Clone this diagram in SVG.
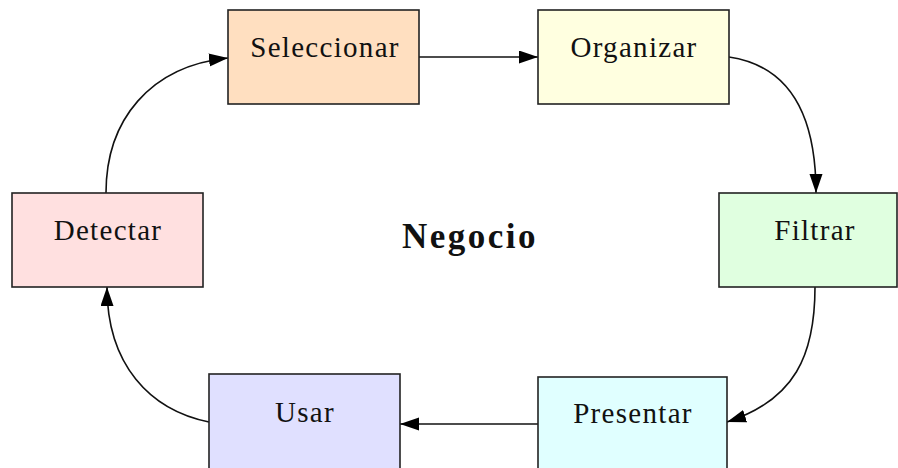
<svg xmlns="http://www.w3.org/2000/svg" width="898" height="468" viewBox="0 0 898 468">
<style>
.box{stroke:#222;stroke-width:1.6}
.lbl{font-family:"Liberation Serif","Times New Roman",serif;font-size:29px;letter-spacing:1.3px;fill:#111;text-anchor:middle}
.title{font-family:"Liberation Serif","Times New Roman",serif;font-size:35px;font-weight:bold;letter-spacing:2.5px;fill:#111;text-anchor:middle}
.edge{fill:none;stroke:#111;stroke-width:1.6}
</style>
<defs>
<marker id="ah" markerUnits="userSpaceOnUse" markerWidth="20" markerHeight="14" refX="19" refY="6.5" orient="auto">
<path d="M0,0 L19,6.5 L0,13 z" fill="#000"/>
</marker>
</defs>
<rect width="898" height="468" fill="#fff"/>
<g id="connectors">
<path class="edge" d="M419,57 L538,57" marker-end="url(#ah)"/>
<path class="edge" d="M729,57 C790,66 816,115 816,193" marker-end="url(#ah)"/>
<path class="edge" d="M815,287 C815,355 795,400 727,422" marker-end="url(#ah)"/>
<path class="edge" d="M538,424 L400,424" marker-end="url(#ah)"/>
<path class="edge" d="M209,422 C150,410 107,365 107,287" marker-end="url(#ah)"/>
<path class="edge" d="M106,193 C106,120 150,66 228,58" marker-end="url(#ah)"/>
</g>
<g id="seleccionar">
<rect class="box" x="228" y="10" width="191" height="94" fill="#ffdfc0"/>
<text class="lbl" x="325" y="57">Seleccionar</text>
</g>
<g id="organizar">
<rect class="box" x="538" y="10" width="191" height="94" fill="#ffffe0"/>
<text class="lbl" x="634" y="57">Organizar</text>
</g>
<g id="filtrar">
<rect class="box" x="719" y="193" width="178" height="94" fill="#e0ffe0"/>
<text class="lbl" x="815" y="240">Filtrar</text>
</g>
<g id="presentar">
<rect class="box" x="538" y="377" width="189" height="100" fill="#e0ffff"/>
<text class="lbl" x="633" y="423">Presentar</text>
</g>
<g id="usar">
<rect class="box" x="209" y="374" width="191" height="100" fill="#e0e0ff"/>
<text class="lbl" x="305" y="422">Usar</text>
</g>
<g id="detectar">
<rect class="box" x="12" y="193" width="191" height="94" fill="#ffe0e0"/>
<text class="lbl" x="108" y="240">Detectar</text>
</g>
<g id="negocio">
<text class="title" x="470" y="248">Negocio</text>
</g>
</svg>
